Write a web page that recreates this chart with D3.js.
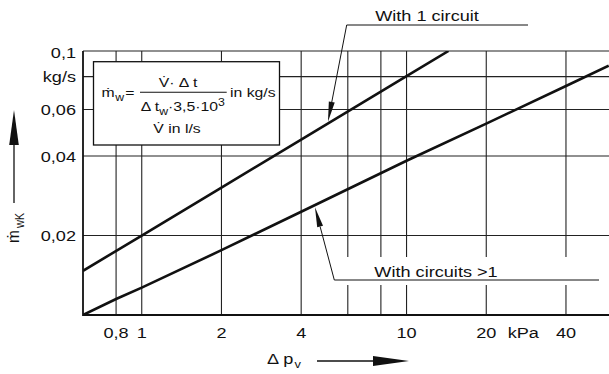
<!DOCTYPE html>
<html>
<head>
<meta charset="utf-8">
<script src="https://cdn.jsdelivr.net/npm/d3@7"></script>
<style>
  body { margin: 0; background: #fff; }
  text { font-family: 'Liberation Sans', Arial, sans-serif; fill: #111; }
</style>
</head>
<body>
<div id="main"></div>
<script>
// grid and tick values (log-log chart)
const dpGrid = [0.8, 1, 2, 4, 6, 8, 10, 20, 40];
const dpTicks = [0.8, 1, 2, 4, 10, 20, 40];
const dpTickLabels = ['0,8', '1', '2', '4', '10', '20', '40'];
const mGrid = [0.1, 0.08, 0.06, 0.04, 0.02];
const mTickLabels = ['0,1', 'kg/s', '0,06', '0,04', '0,02'];
// curve: with 1 circuit
const dpOne = [0.6, 1, 2, 4, 10, 14.4];
const mOne = [0.0147, 0.02, 0.0304, 0.0462, 0.0803, 0.1];
// curve: with circuits > 1
const dpMulti = [0.6, 0.8, 1, 2, 4, 10, 20, 40, 58];
const mMulti = [0.01, 0.0115, 0.0127, 0.0176, 0.0246, 0.0384, 0.0531, 0.0737, 0.088];

const W = 609, H = 374;
const SX = 1.17; // source text is stretched horizontally
const FS = 15.5;

function main() {
  const svg = d3.select('#main').append('svg')
    .attr('width', W).attr('height', H);

  const x = d3.scaleLog().domain([0.6, 60]).range([83, 83 + 264.8 * 2]);
  const y = d3.scaleLog().domain([0.01, 0.1]).range([315, 51]);
  const left = 83, right = W, top = 51, bottom = 315;

  // stretched text helper
  function txt(g, px, py, s, anchor, size) {
    return g.append('text')
      .attr('transform', `translate(${px},${py}) scale(${SX},1)`)
      .attr('text-anchor', anchor || 'start')
      .style('font-size', `${size || FS}px`)
      .text(s);
  }
  // line with a filled, narrow arrowhead at (x1,y1)
  function arrow(g, x0, y0, x1, y1, L, w, sw) {
    const dx = x1 - x0, dy = y1 - y0, len = Math.hypot(dx, dy);
    const ux = dx / len, uy = dy / len;
    const bx = x1 - ux * L, by = y1 - uy * L;
    g.append('line').attr('x1', x0).attr('y1', y0).attr('x2', bx).attr('y2', by)
      .attr('stroke', '#111').attr('stroke-width', sw || 1);
    g.append('path')
      .attr('d', `M${x1},${y1}L${bx - uy * w},${by + ux * w}L${bx + uy * w},${by - ux * w}Z`)
      .attr('fill', '#111');
  }

  svg.append('clipPath').attr('id', 'plot')
    .append('rect').attr('x', left).attr('y', top)
    .attr('width', right - left).attr('height', bottom - top);

  // grid
  const grid = svg.append('g').attr('stroke', '#222').attr('stroke-width', 1.1);
  grid.selectAll('.v').data(dpGrid).enter().append('line')
    .attr('x1', d => x(d)).attr('x2', d => x(d))
    .attr('y1', top).attr('y2', bottom);
  grid.selectAll('.h').data(mGrid).enter().append('line')
    .attr('x1', left).attr('x2', right)
    .attr('y1', d => y(d)).attr('y2', d => y(d));

  // frame (left and bottom, top is the 0,1 grid line)
  svg.append('path')
    .attr('d', `M${left},${top}V${bottom}H${right}`)
    .attr('fill', 'none').attr('stroke', '#111').attr('stroke-width', 1.8);

  // white patch behind lower label (grid lines are broken there)
  svg.append('rect').attr('x', 336).attr('y', 257).attr('width', 266).attr('height', 28)
    .attr('fill', '#fff');

  // curves
  const line = d3.line().x(d => x(d[0])).y(d => y(d[1]));
  const curves = svg.append('g').attr('clip-path', 'url(#plot)');
  curves.append('path').datum(d3.zip(dpOne, mOne))
    .attr('d', line).attr('fill', 'none').attr('stroke', '#111').attr('stroke-width', 2.6);
  curves.append('path').datum(d3.zip(dpMulti, mMulti))
    .attr('d', line).attr('fill', 'none').attr('stroke', '#111').attr('stroke-width', 2.6);

  // tick labels
  const labels = svg.append('g');
  dpTicks.forEach((d, i) => txt(labels, x(d), 338, dpTickLabels[i], 'middle'));
  txt(labels, x(27.6), 338, 'kPa', 'middle');
  mGrid.forEach((d, i) => txt(labels, 76, y(d) + (i === 0 ? 7 : 5.8), mTickLabels[i], 'end'));

  // formula box
  const box = svg.append('g');
  box.append('rect').attr('x', 93.5).attr('y', 61.7).attr('width', 186).attr('height', 83.3)
    .attr('fill', '#fff').attr('stroke', '#111').attr('stroke-width', 1.3);
  const f = 13.5;
  const t1 = txt(box, 101.5, 96.7, 'm\u0307', 'start', f);
  t1.append('tspan').attr('dx', 0.5).attr('dy', 4).style('font-size', '10.5px').text('w');
  t1.append('tspan').attr('dx', 1).attr('dy', -4).text('=');
  box.append('line').attr('x1', 140).attr('x2', 226.7).attr('y1', 92.3).attr('y2', 92.3)
    .attr('stroke', '#111').attr('stroke-width', 1.1);
  txt(box, 178, 86.7, 'V\u0307\u00b7 \u0394 t', 'middle', f);
  const den = txt(box, 140.7, 110.5, '\u0394 t', 'start', f);
  den.append('tspan').attr('dy', 4).style('font-size', '10.5px').text('w');
  den.append('tspan').attr('dy', -4).text('\u00b73,5\u00b710');
  den.append('tspan').attr('dy', -5).style('font-size', '10.5px').text('3');
  txt(box, 230, 96.7, 'in kg/s', 'start', f);
  txt(box, 177, 133.3, 'V\u0307 in l/s', 'middle', f);

  // annotations
  const ann = svg.append('g');
  txt(ann, 427, 20.7, 'With 1 circuit', 'middle');
  ann.append('line').attr('x1', 346.7).attr('x2', 528).attr('y1', 25).attr('y2', 25)
    .attr('stroke', '#111').attr('stroke-width', 1);
  arrow(ann, 346.7, 25, x(5.05), y(0.054), 20, 3);

  txt(ann, 436, 276.7, 'With circuits >1', 'middle');
  ann.append('line').attr('x1', 334.3).attr('x2', 599).attr('y1', 280).attr('y2', 280)
    .attr('stroke', '#111').attr('stroke-width', 1);
  arrow(ann, 334.3, 280, x(4.51), y(0.0256), 20, 3);

  // axis titles with arrows
  const yt = svg.append('text')
    .attr('transform', 'translate(18.5,243) rotate(-90) scale(1,1.12)')
    .style('font-size', `${FS}px`)
    .text('m\u0307');
  yt.append('tspan').attr('dx', 2).attr('dy', 4.5).style('font-size', '11px').text('wK');
  arrow(svg, 14, 203, 14, 110, 35, 4.8, 1.3);

  const xt = txt(svg, 267, 363.5, '\u0394 p', 'start');
  xt.append('tspan').attr('dx', 1).attr('dy', 4).style('font-size', '11px').text('v');
  arrow(svg, 317, 361, 409, 361, 36, 5, 1.3);
}

document.addEventListener('DOMContentLoaded', main);
</script>
</body>
</html>
